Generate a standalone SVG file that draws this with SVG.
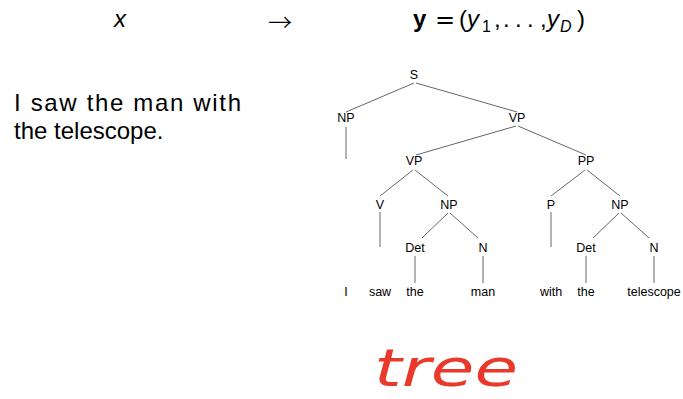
<svg xmlns="http://www.w3.org/2000/svg" width="683" height="399" viewBox="0 0 683 399">
<style>
.t{font-family:"Liberation Sans",Arial,sans-serif;fill:#000}
.lab{font-size:12.5px;text-anchor:middle}
.big{font-size:24px}
.math{font-size:24px}
.e{stroke:#555;stroke-width:0.9;fill:none}
</style>
<rect width="683" height="399" fill="#fff"/>
<g id="header">
<text class="t math" x="120" y="27" font-style="italic" text-anchor="middle">x</text>
<text x="280" y="31" font-family="'Noto Sans CJK SC','DejaVu Sans',sans-serif" font-size="24" font-weight="300" text-anchor="middle" textLength="24" lengthAdjust="spacingAndGlyphs">→</text>
<text class="t math" x="413" y="27" font-weight="bold">y</text>
<text x="445" y="28" font-family="'DejaVu Sans',sans-serif" font-size="24" text-anchor="middle">=</text>
<text class="t math" x="459" y="27">(</text>
<text class="t math" x="467" y="27" font-style="italic">y</text>
<text class="t" x="482" y="32" font-size="16">1</text>
<text class="t math" x="494" y="27">,</text>
<text class="t math" x="503" y="27">.</text>
<text class="t math" x="515" y="27">.</text>
<text class="t math" x="527" y="27">.</text>
<text class="t math" x="540" y="27">,</text>
<text class="t math" x="547" y="27" font-style="italic">y</text>
<text class="t" x="560" y="32" font-size="16" font-style="italic">D</text>
<text class="t math" x="577" y="27">)</text>
</g>
<g id="sentence">
<text class="t big" x="14" y="111" textLength="227" lengthAdjust="spacing">I saw the man with</text>
<text class="t big" x="14" y="139">the telescope.</text>
</g>
<g id="connectors">
<line class="e" x1="414" y1="83" x2="346" y2="112"/>
<line class="e" x1="416" y1="83" x2="517" y2="112"/>
<line class="e" x1="346" y1="127" x2="346" y2="159"/>
<line class="e" x1="516" y1="126" x2="416" y2="155"/>
<line class="e" x1="518" y1="126" x2="586" y2="155"/>
<line class="e" x1="413" y1="170" x2="380" y2="196"/>
<line class="e" x1="415" y1="170" x2="448" y2="196"/>
<line class="e" x1="585" y1="170" x2="551" y2="196"/>
<line class="e" x1="587" y1="170" x2="620" y2="196"/>
<line class="e" x1="380" y1="212" x2="380" y2="247"/>
<line class="e" x1="551" y1="212" x2="551" y2="247"/>
<line class="e" x1="448" y1="213" x2="422" y2="238"/>
<line class="e" x1="450" y1="213" x2="478" y2="238"/>
<line class="e" x1="619" y1="213" x2="593" y2="238"/>
<line class="e" x1="621" y1="213" x2="649" y2="238"/>
<line class="e" x1="415" y1="256" x2="415" y2="283"/>
<line class="e" x1="483" y1="256" x2="483" y2="283"/>
<line class="e" x1="586" y1="256" x2="586" y2="283"/>
<line class="e" x1="654" y1="256" x2="654" y2="283"/>
</g>
<g id="n-S"><text class="t lab" x="414" y="79">S</text></g>
<g id="n-NP1"><text class="t lab" x="346" y="122">NP</text></g>
<g id="n-VP1"><text class="t lab" x="517" y="122">VP</text></g>
<g id="n-VP2"><text class="t lab" x="414" y="165">VP</text></g>
<g id="n-PP"><text class="t lab" x="586" y="165">PP</text></g>
<g id="n-V"><text class="t lab" x="380" y="209">V</text></g>
<g id="n-NP2"><text class="t lab" x="449" y="209">NP</text></g>
<g id="n-P"><text class="t lab" x="551" y="209">P</text></g>
<g id="n-NP3"><text class="t lab" x="620" y="209">NP</text></g>
<g id="n-Det1"><text class="t lab" x="415" y="252">Det</text></g>
<g id="n-N1"><text class="t lab" x="483" y="252">N</text></g>
<g id="n-Det2"><text class="t lab" x="586" y="252">Det</text></g>
<g id="n-N2"><text class="t lab" x="654" y="252">N</text></g>
<g id="leaves">
<text class="t lab" x="346" y="296">I</text>
<text class="t lab" x="380" y="296">saw</text>
<text class="t lab" x="415" y="296">the</text>
<text class="t lab" x="483" y="296">man</text>
<text class="t lab" x="551" y="296">with</text>
<text class="t lab" x="586" y="296">the</text>
<text class="t lab" x="654" y="296">telescope</text>
</g>
<g id="label-tree">
<text x="374" y="386" font-family="'DejaVu Sans',sans-serif" font-style="italic" font-size="52" fill="#e8392a" textLength="144" lengthAdjust="spacingAndGlyphs">tree</text>
</g>
</svg>
